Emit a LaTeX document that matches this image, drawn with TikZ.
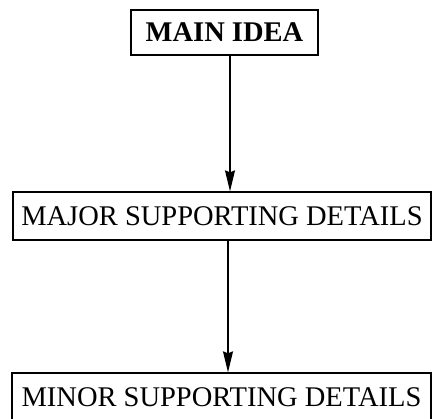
\documentclass[tikz,border=0pt]{standalone}
\usepackage{fontspec}
\setmainfont{Liberation Serif}
\usetikzlibrary{arrows.meta}

\tikzset{
  level/.style={draw, line width=1.3pt, inner sep=0pt, font=\fontsize{28.5}{30}\selectfont},
  link/.style={line width=1.2pt, -{Stealth[length=21pt,width=10pt,inset=2pt]}}
}

\begin{document}
\begin{tikzpicture}[x=1pt,y=-1pt]
  \useasboundingbox (0,0) rectangle (434,418);
  \clip (0,0) rectangle (434,418);
  \draw
    (224.5,32.5) node[level, minimum width=187pt, minimum height=45pt] (main){\bfseries MAIN IDEA}
    (222,216) node[level, minimum width=418pt, minimum height=48pt] (major){MAJOR SUPPORTING DETAILS}
    (221.5,397) node[level, minimum width=419pt, minimum height=48pt] (minor){MINOR SUPPORTING DETAILS};
  \begin{scope}[link]
    \draw ([xshift=5.5pt]main.south) to ([xshift=5.5pt]main.south |- major.north);
    \draw ([xshift=6pt]major.south) to ([xshift=6pt]major.south |- minor.north);
  \end{scope}
\end{tikzpicture}
\end{document}
